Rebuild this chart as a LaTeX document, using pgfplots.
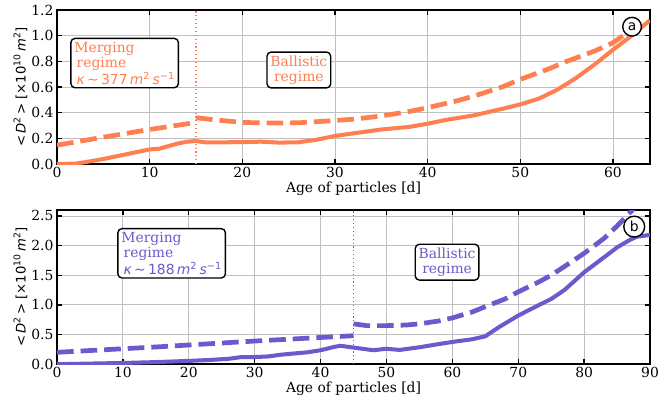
\documentclass[border=0pt]{standalone}
\usepackage{fontspec}
\setmainfont{DejaVu Serif}
\newfontfamily\dvs{DejaVu Sans}
\usepackage{pgfplots}
\pgfplotsset{compat=1.18}
\definecolor{coralc}{HTML}{FF7F50}
\definecolor{slate}{HTML}{6A5ACD}
\tikzset{boxn/.style={draw=black, rounded corners=3pt, line width=1pt, fill=white, font=\fontsize{10}{11}\selectfont, inner sep=2.5pt}}
\pgfplotsset{panel/.style={
  scale only axis, width=427pt, height=111pt,
  axis line style={line width=1.2pt},
  every tick/.style={line width=1pt, black},
  tick align=inside, major tick length=3.5pt,
  xtick pos=both, ytick pos=both, xticklabel pos=lower, yticklabel pos=left,
  grid=major, grid style={black!25, line width=0.6pt},
  minor tick num=0,
  ticklabel style={font=\fontsize{10}{12}\selectfont},
  label style={font=\fontsize{10}{12}\selectfont},
  /pgf/number format/assume math mode=true,
  yticklabel style={/pgf/number format/fixed, /pgf/number format/fixed zerofill, /pgf/number format/precision=1, xshift=1pt},
  xticklabel style={yshift=1pt},
  xlabel={Age of particles [d]},
  ylabel={{\dvs\fontsize{9.5}{11}\selectfont <\,\textit{D}\textsuperscript{2}\,> [×10\textsuperscript{10}\,\textit{m}\textsuperscript{2}]}},
  xlabel style={yshift=4pt},
  ylabel style={yshift=-4pt},
  clip mode=individual,
  enlargelimits=false,
}}
\begin{document}
\begin{tikzpicture}
\useasboundingbox (-41.04pt,7.2pt) rectangle (439.2pt,-282.96pt);
\begin{axis}[panel, at={(0,0)}, anchor=north west,
  xmin=0, xmax=64, ymin=0, ymax=1.2, xtick={0,10,...,60}, ytick={0,0.2,...,1.2}]
\addplot[coralc, line width=2.9pt] coordinates {(0,0) (2,0.005) (3,0.015) (5,0.04) (7,0.07) (9,0.1) (10,0.115) (11,0.12) (12,0.14) (13,0.16) (14,0.175) (15,0.18) (16,0.17) (18,0.17) (20,0.172) (22,0.175) (24,0.168) (26,0.17) (28,0.19) (30,0.22) (32,0.24) (35,0.27) (38,0.29) (40,0.315) (42,0.345) (45,0.38) (48,0.43) (50,0.465) (52,0.51) (54,0.58) (56,0.67) (58,0.775) (60,0.89) (62,1.0) (64,1.12)};
\addplot[coralc, line width=3.4pt, dash pattern=on 12pt off 5pt] coordinates {(0,0.148) (5,0.21) (10,0.27) (15,0.325)};
\addplot[coralc, line width=3.4pt, dash pattern=on 12pt off 5pt] coordinates {(15,0.362) (17,0.345) (20,0.325) (23,0.32) (26,0.322) (29,0.335) (32,0.35) (35,0.375) (38,0.41) (40,0.44) (43,0.49) (45,0.53) (48,0.6) (50,0.66) (53,0.74) (55,0.8) (58,0.88) (60,0.945) (62.5,1.07)};
\addplot[coralc, line width=0.8pt, dotted] coordinates {(15,0) (15,1.2)};
\node[boxn, text=coralc, align=left] at (axis cs:7.3,0.787) {Merging\\ \,regime\\ {\dvs\,\textit{κ}\,∼\,377\,\textit{m}\textsuperscript{2}\,\textit{s}\textsuperscript{−1}}};
\node[boxn, text=coralc, align=center] at (axis cs:26.1,0.733) {Ballistic\\regime};
\node[draw=black, circle, line width=1pt, fill=white, inner sep=1.8pt, font=\dvs\fontsize{10}{12}\selectfont] at (axis cs:62.06,1.07) {a};
\end{axis}
\begin{axis}[panel, at={(0,-144pt)}, anchor=north west,
  xmin=0, xmax=90, ymin=0, ymax=2.6, xtick={0,10,...,90}, ytick={0,0.5,...,2.5}]
\addplot[slate, line width=2.9pt] coordinates {(0,0.0) (5,0.01) (10,0.02) (15,0.035) (20,0.055) (23,0.07) (26,0.09) (28,0.12) (30,0.12) (32,0.13) (34,0.16) (36,0.18) (38,0.2) (40,0.235) (42,0.29) (43,0.31) (45,0.28) (47,0.25) (48,0.235) (50,0.26) (52,0.24) (55,0.285) (58,0.34) (60,0.375) (63,0.42) (65,0.47) (67,0.62) (70,0.82) (73,0.99) (75,1.1) (77,1.25) (80,1.55) (83,1.8) (85,1.97) (87,2.1) (88,2.15) (90,2.18)};
\addplot[slate, line width=3.4pt, dash pattern=on 12pt off 5pt] coordinates {(0,0.2) (15,0.29) (30,0.39) (45,0.48)};
\addplot[slate, line width=3.4pt, dash pattern=on 12pt off 5pt] coordinates {(45,0.68) (47,0.65) (50,0.65) (53,0.66) (55,0.68) (58,0.73) (60,0.78) (63,0.88) (65,0.97) (68,1.1) (70,1.22) (73,1.38) (75,1.5) (78,1.72) (80,1.87) (83,2.12) (85,2.33) (87.5,2.62)};
\addplot[slate, line width=0.8pt, dotted] coordinates {(45,0) (45,2.6)};
\node[boxn, text=slate, align=left] at (axis cs:17.4,1.87) {Merging\\ \,regime\\ {\dvs\,\textit{κ}\,∼\,188\,\textit{m}\textsuperscript{2}\,\textit{s}\textsuperscript{−1}}};
\node[boxn, text=slate, align=center] at (axis cs:59.2,1.72) {Ballistic\\regime};
\node[draw=black, circle, line width=1pt, fill=white, inner sep=1.8pt, font=\dvs\fontsize{10}{12}\selectfont] at (axis cs:87.6,2.32) {b};
\end{axis}
\end{tikzpicture}
\end{document}
